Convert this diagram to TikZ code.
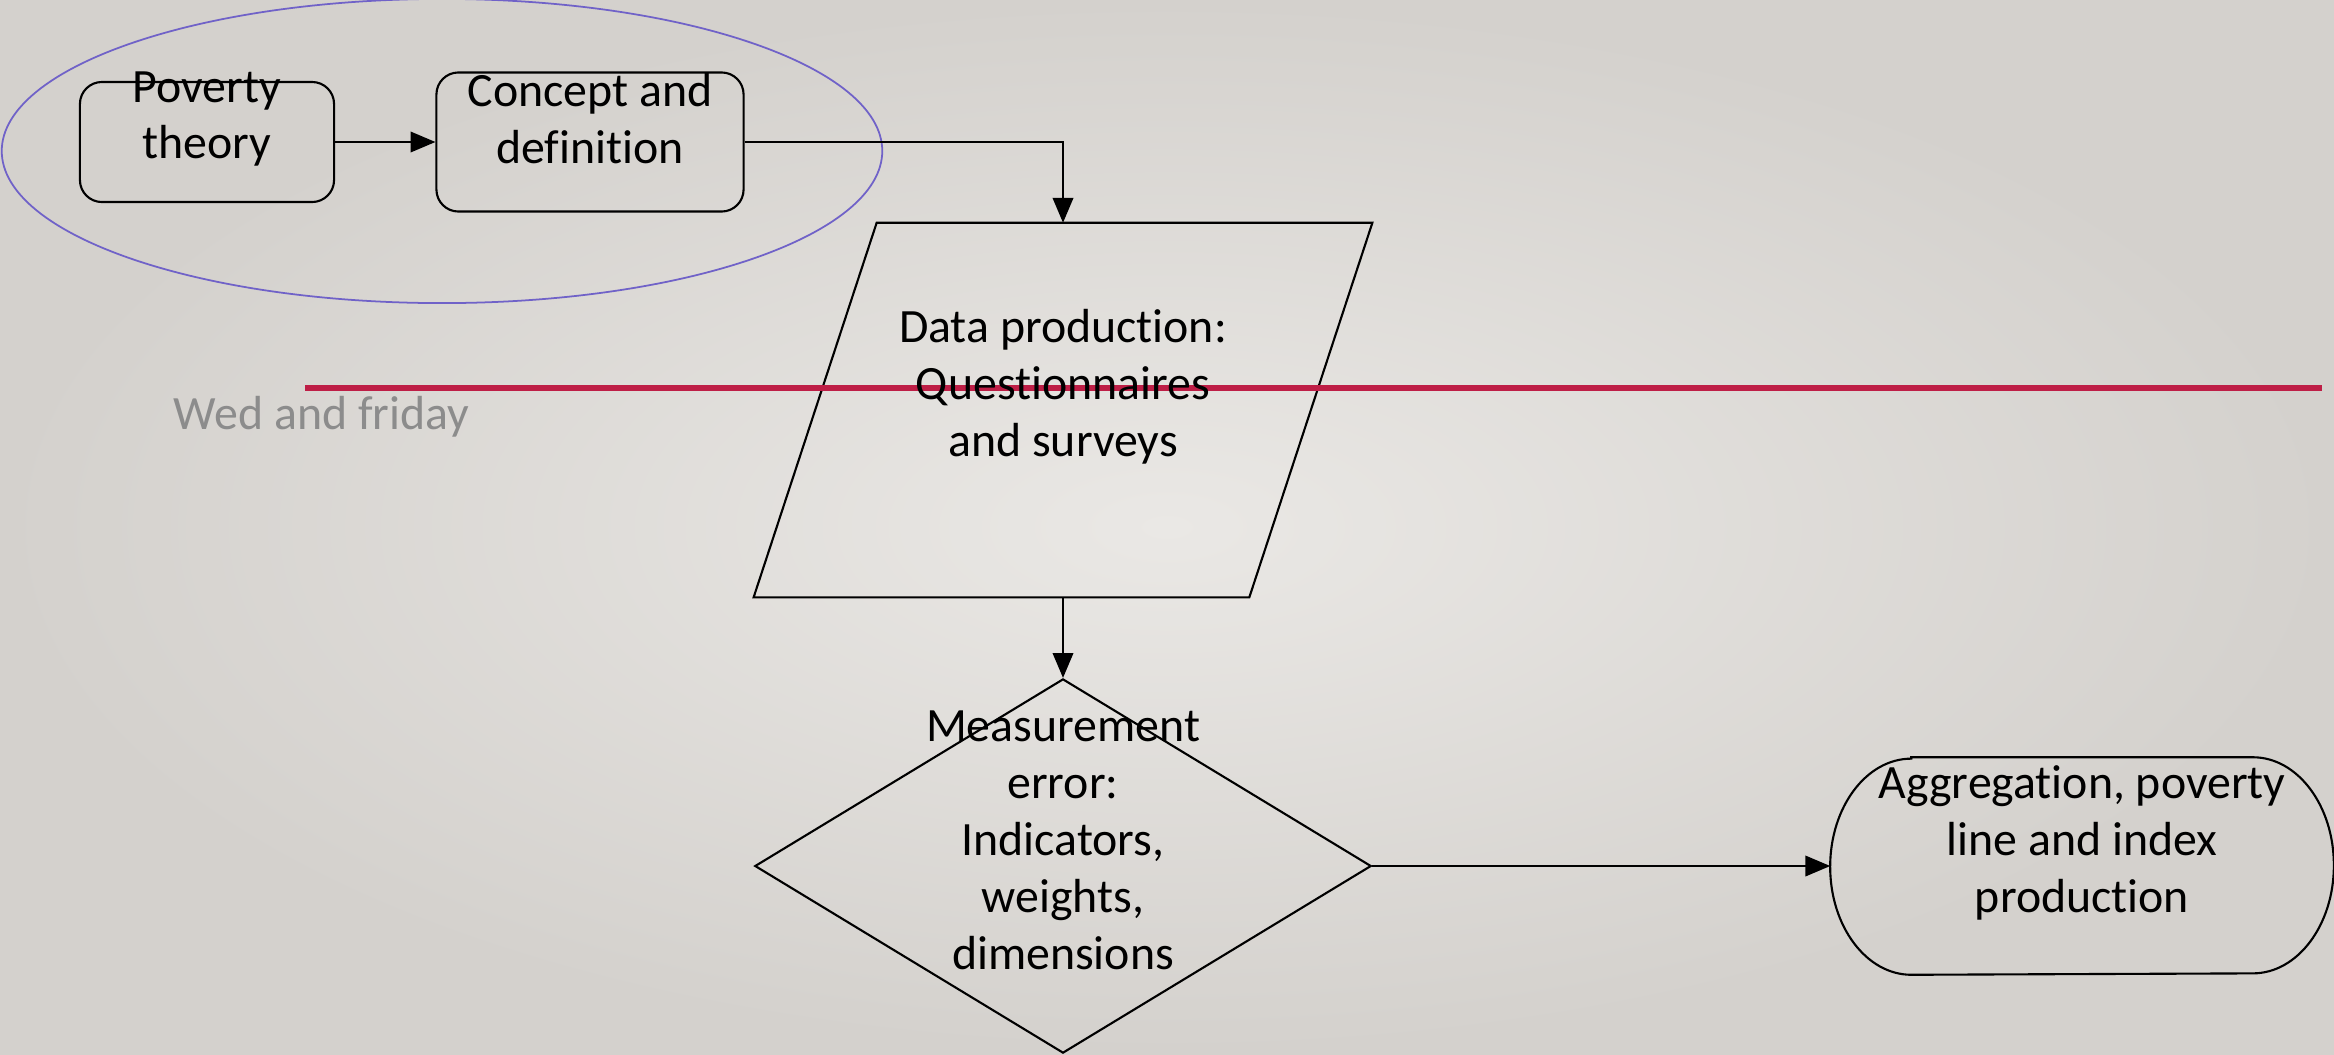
\documentclass[tikz,border=0pt]{standalone}
\usepackage{fontspec}
\setmainfont[Ligatures=NoCommon]{Carlito}
\usetikzlibrary{arrows}
\usetikzlibrary{positioning}
\usetikzlibrary{shapes.geometric}

\definecolor{ovalblue}{RGB}{112,98,200}
\definecolor{rulered}{RGB}{190,30,70}
\definecolor{weekgray}{RGB}{140,140,140}
\definecolor{bgin}{RGB}{234,232,229}
\definecolor{bgout}{RGB}{212,209,205}

\begin{document}
\begin{tikzpicture}
			[x=0.01cm,y=-0.01cm,>=triangle 45,
			every node/.style={inner sep=0pt},
			box/.style={draw,line width=0.6pt,rounded corners=0.22cm},
			txt/.style={align=center,font=\fontsize{13.6}{16.2}\selectfont},
			link/.style={->,line width=0.6pt}]
			\useasboundingbox (0,0) rectangle (2334,1054);
			\shade[inner color=bgin,outer color=bgout] (0,0) rectangle (2334,1054);
			
			\node[draw=ovalblue,ellipse,line width=0.5pt,minimum width=8.8cm,minimum height=3.04cm] (oval) at (442,151) {};
			\node[box,minimum width=2.54cm,minimum height=1.2cm] (pov) at (207,142) {};
			\node[box,minimum width=3.07cm,minimum height=1.39cm] (con) at (590,142) {};
			\node[minimum width=6.17cm,minimum height=3.73cm] (data) at (1063,410) {};
			\draw[line width=0.6pt] (data.south west) -- ([xshift=-1.23cm]data.south east)
				-- (data.north east) -- ([xshift=1.23cm]data.north west) -- cycle;
			\node[draw,line width=0.6pt,diamond,minimum width=6.16cm,minimum height=3.74cm] (meas) at (1063,866) {};
			\node[minimum width=5.02cm,minimum height=2.16cm] (agg) at (2082,866) {};
			\draw[line width=0.6pt] ([xshift=0.81cm]agg.north west) -- ([xshift=-0.81cm]agg.north east)
				arc[start angle=90,end angle=-90,x radius=0.81cm,y radius=1.08cm]
				-- ([xshift=0.81cm]agg.south west)
				arc[start angle=270,end angle=90,x radius=0.81cm,y radius=1.08cm] -- cycle;
			
			\draw[rulered,line width=1.9pt] (305,388) -- (2322,388);
			
			\node[txt] (pov-t) at (207,119) {Poverty\\theory};
			\node[txt] (con-t) at (590,119) {Concept and\\definition};
			\node[txt] (data-t) at (1063,387) {Data production:\\Questionnaires\\and surveys};
			\node[txt] (meas-t) at (1063,840) {Measurement\\error:\\Indicators,\\weights,\\dimensions};
			\node[txt] (agg-t) at (2082,843) {Aggregation, poverty\\line and index\\production};
			\node[txt,text=weekgray,anchor=west] (week) at (173,417) {Wed and friday};
			
			\draw[link] (pov) -- (con);
			\draw[link] (con.east) -| (data.north);
			\draw[link] (data) -- (meas);
			\draw[link] (meas) -- (agg);
			\end{tikzpicture}
\end{document}
